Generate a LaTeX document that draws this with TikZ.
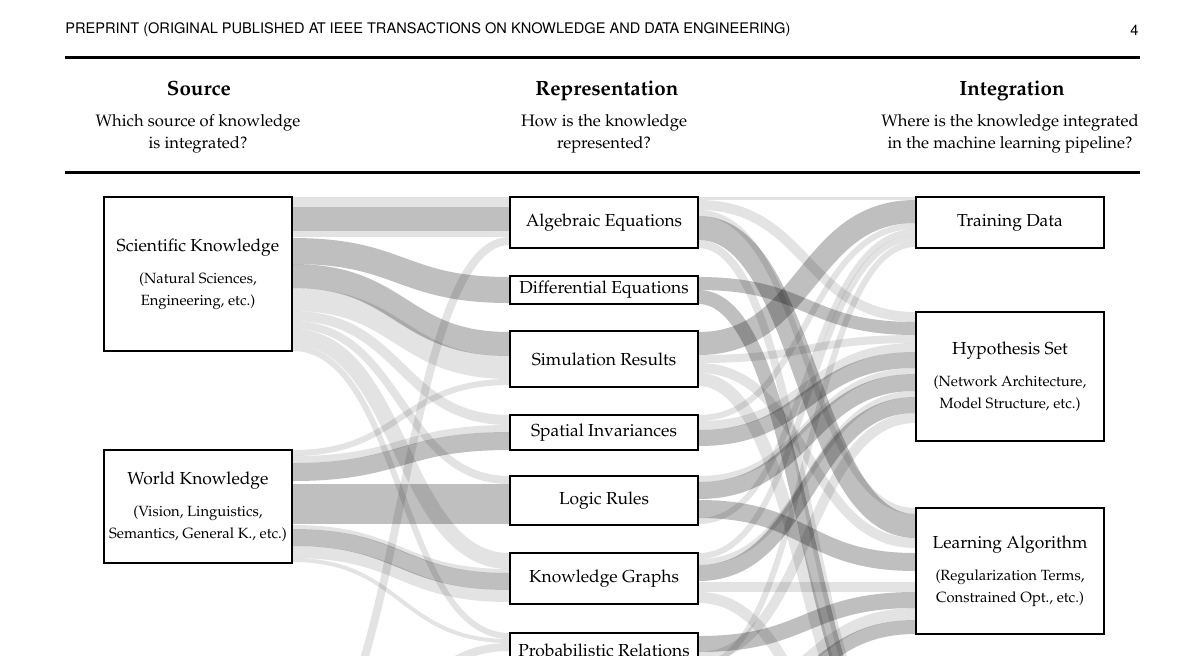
\documentclass[tikz,border=0pt]{standalone}
\usepackage[T1]{fontenc}
\usepackage{mathpazo}
\usepackage{helvet}
\usetikzlibrary{backgrounds}

\newcommand{\mainfs}{\fontsize{8.7}{11}\selectfont}
\newcommand{\subfs}{\fontsize{7.4}{11}\selectfont}
\newcommand{\flow}[7]{%
  \pgfmathsetmacro{\fa}{(#3+#4)/2}\pgfmathsetmacro{\fb}{(#6+#7)/2}\pgfmathsetmacro{\fw}{(#4-#3)*0.5}%
  \draw[#1, line width=\fw pt] (#2 |- 0,\fa) .. controls +(109,0) and +(-109,0) .. (#5 |- 0,\fb);}

\begin{document}
\begin{tikzpicture}[
    x=0.5pt, y={(0,-0.5pt)},
    box/.style={draw, line width=0.75pt, fill=white, minimum width=94pt, inner sep=0pt, align=center, font=\mainfs},
    bigbox/.style={box, font=\subfs},
    runfont/.style={font=\sffamily\fontsize{7.3}{9}\selectfont, inner sep=0pt},
    colhead/.style={font=\fontsize{10.3}{12}\selectfont\bfseries, anchor=base},
    colsub/.style={font=\fontsize{8.3}{11}\selectfont, align=center},
    strong/.style={draw=black, draw opacity=0.25},
    weak/.style={draw=black, draw opacity=0.11}
]
\useasboundingbox (0,0) rectangle (1200,655);

\node[runfont, anchor=west] (runhead) at (65,30) {PREPRINT (ORIGINAL PUBLISHED AT IEEE TRANSACTIONS ON KNOWLEDGE AND DATA ENGINEERING)};
\node[runfont, anchor=east] (pageno) at (1139,30) {4};
\draw[line width=1.5pt] (65,57) -- (1140,57);
\draw[line width=1.5pt] (65,172) -- (1140,172);

\node[colhead] (hsrc) at (199,95) {Source};
\node[colhead] (hrep) at (607,95) {Representation};
\node[colhead] (hint) at (1012,95) {Integration};
\node[colsub] (qsrc) at (198,134) {Which source of knowledge\\is integrated?};
\node[colsub] (qrep) at (604,134) {How is the knowledge\\represented?};
\node[colsub] (qint) at (1010,134) {Where is the knowledge integrated\\in the machine learning pipeline?};

\node[bigbox, minimum height=77pt] (sk) at (198,274) {{\mainfs Scientific Knowledge}\\[5pt](Natural Sciences,\\Engineering, etc.)};
\node[bigbox, minimum height=56.5pt] (wk) at (198,506.5) {{\mainfs World Knowledge}\\[5pt](Vision, Linguistics,\\Semantics, General K., etc.)};

\node[box, minimum height=25.5pt] (alg) at (604,222.5) {Algebraic Equations};
\node[box, minimum height=14pt] (diff) at (604,290) {Differential Equations};
\node[box, minimum height=28pt] (sim) at (604,359) {Simulation Results};
\node[box, minimum height=17.5pt] (spat) at (604,432.5) {Spatial Invariances};
\node[box, minimum height=24.5pt] (logic) at (604,500.5) {Logic Rules};
\node[box, minimum height=25.5pt] (kg) at (604,578.5) {Knowledge Graphs};
\node[box, minimum height=17pt] (prob) at (604,650) {Probabilistic Relations};

\node[box, minimum height=25.5pt] (td) at (1010,222.5) {Training Data};
\node[bigbox, minimum height=64.5pt] (hs) at (1010,376.5) {{\mainfs Hypothesis Set}\\[5pt](Network Architecture,\\Model Structure, etc.)};
\node[bigbox, minimum height=63pt] (la) at (1010,571) {{\mainfs Learning Algorithm}\\[5pt](Regularization Terms,\\Constrained Opt., etc.)};

\coordinate (ek) at (292,760);
\coordinate (rp) at (698,720);
\coordinate (fh) at (916,780);

\begin{pgfonlayer}{background}
\begin{scope}
\clip (0,180) rectangle (1200,655);
% source -> representation
\flow{weak}{sk.east}{197}{207}{alg.west}{197}{207}
\flow{strong}{sk.east}{207}{231}{alg.west}{207}{231}
\flow{weak}{sk.east}{231}{237}{alg.west}{231}{237}
\flow{strong}{sk.east}{238}{264}{diff.west}{277}{303}
\flow{strong}{sk.east}{264}{288}{sim.west}{332}{356}
\flow{weak}{sk.east}{288}{311}{sim.west}{356}{379}
\flow{weak}{sk.east}{311}{321}{spat.west}{415}{425}
\flow{weak}{sk.east}{321}{329}{logic.west}{476}{484}
\flow{weak}{sk.east}{329}{345}{kg.west}{553}{569}
\flow{weak}{sk.east}{345}{351}{prob.west}{633}{639}
\flow{weak}{ek}{760}{768}{alg.west}{237}{245}
\flow{weak}{wk.east}{450}{456}{sim.west}{379}{385}
\flow{weak}{wk.east}{456}{463}{spat.west}{425}{432}
\flow{strong}{wk.east}{463}{481}{spat.west}{432}{450}
\flow{strong}{wk.east}{484}{524}{logic.west}{484}{524}
\flow{weak}{wk.east}{525}{529}{kg.west}{569}{573}
\flow{strong}{wk.east}{529}{546}{kg.west}{573}{590}
\flow{weak}{wk.east}{546}{558}{kg.west}{590}{602}
\flow{weak}{wk.east}{558}{562}{prob.west}{639}{643}
\flow{weak}{ek}{770}{778}{prob.west}{643}{651}
% representation -> integration
\flow{weak}{alg.east}{197}{200}{td.west}{197}{200}
\flow{weak}{alg.east}{200}{210}{hs.west}{312}{322}
\flow{weak}{alg.east}{210}{216}{la.west}{508}{514}
\flow{strong}{alg.east}{216}{240}{la.west}{514}{538}
\flow{weak}{alg.east}{240}{248}{fh}{760}{768}
\flow{strong}{diff.east}{277}{290}{hs.west}{322}{335}
\flow{strong}{diff.east}{290}{304}{fh}{770}{784}
\flow{strong}{sim.east}{332}{355}{td.west}{200}{223}
\flow{weak}{sim.east}{355}{363}{hs.west}{335}{343}
\flow{weak}{sim.east}{363}{373}{la.west}{538}{548}
\flow{weak}{sim.east}{373}{386}{fh}{790}{803}
\flow{weak}{spat.east}{415}{421}{td.west}{223}{229}
\flow{weak}{spat.east}{421}{430}{hs.west}{343}{352}
\flow{strong}{spat.east}{430}{446}{hs.west}{352}{368}
\flow{weak}{logic.east}{476}{482}{hs.west}{368}{374}
\flow{strong}{logic.east}{482}{499}{hs.west}{374}{391}
\flow{strong}{logic.east}{500}{518}{la.west}{553}{571}
\flow{weak}{logic.east}{518}{524}{td.west}{229}{235}
\flow{weak}{kg.east}{553}{559}{td.west}{235}{241}
\flow{weak}{kg.east}{559}{565}{hs.west}{391}{397}
\flow{strong}{kg.east}{565}{581}{hs.west}{397}{413}
\flow{weak}{kg.east}{582}{592}{la.west}{582}{592}
\flow{weak}{kg.east}{592}{603}{fh}{810}{821}
\flow{strong}{prob.east}{636}{652}{la.west}{592}{608}
\flow{weak}{prob.east}{652}{662}{hs.west}{413}{423}
\flow{weak}{prob.east}{662}{668}{td.west}{241}{247}
\flow{weak}{rp}{700}{712}{la.west}{608}{620}
\flow{strong}{rp}{715}{729}{la.west}{620}{634}
\end{scope}
\end{pgfonlayer}
\end{tikzpicture}
\end{document}
